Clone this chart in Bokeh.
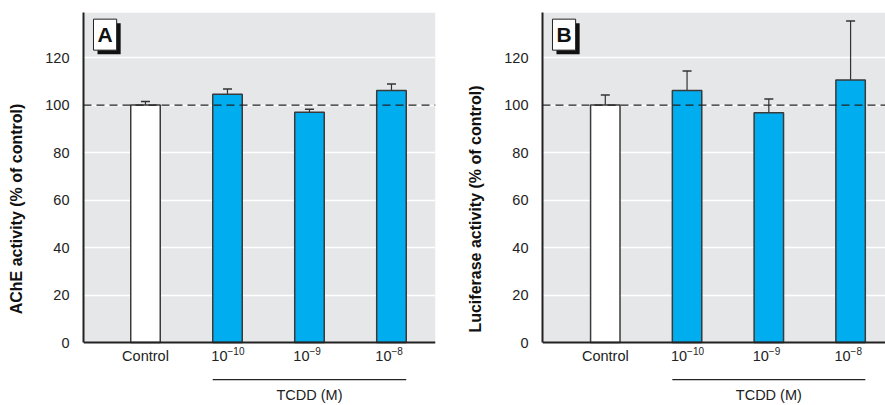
from bokeh.plotting import figure
from bokeh.layouts import row
from bokeh.models import (Range1d, FixedTicker, Span, Label, Whisker, TeeHead,
                          ColumnDataSource, BoxAnnotation)
from bokeh.core.properties import value
from bokeh.embed import file_html
from bokeh.resources import INLINE

categories = ["Control", "10", "10", "10"]
exponents = ["", "\u221210", "\u22129", "\u22128"]
ache_mean = [100.0, 104.6, 97.0, 106.2]
ache_err = [1.5, 2.2, 1.3, 2.7]
luc_mean = [100.0, 106.2, 96.8, 110.6]
luc_err = [4.3, 8.2, 5.8, 24.8]
y_ticks = [0, 20, 40, 60, 80, 100, 120]
group_label = "TCDD (M)"

FONT = "Liberation Sans"
BG = "#e6e7e8"
BLUE = "#00aeef"
INK = "#222222"


def panel(means, errs, ylabel, letter, width, left, right, xr):
    p = figure(width=width, height=405, output_backend="svg", toolbar_location=None,
               x_range=Range1d(*xr), y_range=Range1d(-26.5, 139),
               min_border_left=left, min_border_right=right,
               min_border_top=12, min_border_bottom=0)
    p.background_fill_color = "white"
    p.border_fill_color = "white"
    p.outline_line_color = None
    p.add_layout(BoxAnnotation(bottom=0, fill_color=BG, fill_alpha=1,
                               line_color=None, level="image"))

    xs = list(range(len(categories)))
    colors = ["white"] + [BLUE] * (len(categories) - 1)
    src = ColumnDataSource(dict(x=xs, top=means, color=colors,
                                upper=[m + e for m, e in zip(means, errs)],
                                name=categories, exp=exponents))
    p.vbar(x="x", top="top", width=0.36, source=src, fill_color="color",
           line_color="#3a3a3a", line_width=1.5)
    p.add_layout(Whisker(base="x", lower="top", upper="upper", source=src,
                         line_color="#333333", line_width=1.2,
                         upper_head=TeeHead(size=9, line_color="#333333", line_width=1.5),
                         lower_head=None))
    p.add_layout(Span(location=100, dimension="width", line_color=INK,
                      line_width=1.3, line_dash="8 5"))
    p.add_layout(Span(location=0, dimension="width", line_color=INK, line_width=2))

    # category labels (base + superscript exponent)
    has_exp = [e != "" for e in exponents]
    src_plain = ColumnDataSource(dict(x=[x for x, h in zip(xs, has_exp) if not h],
                                      t=[c for c, h in zip(categories, has_exp) if not h]))
    src_base = ColumnDataSource(dict(x=[x for x, h in zip(xs, has_exp) if h],
                                     t=[c for c, h in zip(categories, has_exp) if h],
                                     e=[e for e, h in zip(exponents, has_exp) if h]))
    p.text(x="x", y=-5.6, text="t", source=src_plain, text_align="center",
           text_baseline="middle", text_font=value(FONT), text_font_size="14.5px",
           text_color=INK)
    p.text(x="x", y=-5.6, text="t", source=src_base, text_align="right",
           text_baseline="middle", text_font=value(FONT), text_font_size="14.5px",
           text_color=INK)
    p.text(x="x", y=-3.4, text="e", source=src_base, text_align="left",
           text_baseline="middle", text_font=value(FONT), text_font_size="10px",
           text_color=INK)

    # TCDD bracket line and label
    first, last = 1, len(categories) - 1
    p.segment(x0=[first - 0.18], y0=[-15.6], x1=[last + 0.18], y1=[-15.6],
              line_color=INK, line_width=1.2)
    p.text(x=[(first + last) / 2], y=[-22.2], text=[group_label], text_align="center",
           text_baseline="middle", text_font=value(FONT), text_font_size="14.5px",
           text_color=INK)

    p.xaxis.visible = False
    p.xgrid.visible = False
    p.ygrid.ticker = FixedTicker(ticks=y_ticks[1:])
    p.ygrid.grid_line_color = "white"
    p.ygrid.grid_line_width = 1.5

    ya = p.yaxis[0]
    ya.ticker = FixedTicker(ticks=y_ticks)
    ya.bounds = (0, 139)
    ya.axis_line_color = INK
    ya.axis_line_width = 2
    ya.major_tick_line_color = None
    ya.minor_tick_line_color = None
    ya.major_label_text_font = FONT
    ya.major_label_text_font_size = "14.5px"
    ya.major_label_text_color = INK
    ya.major_label_standoff = 8
    ya.axis_label = ylabel
    ya.axis_label_text_font = FONT
    ya.axis_label_text_font_style = "bold"
    ya.axis_label_text_font_size = "16px"
    ya.axis_label_text_color = "#111111"
    ya.axis_label_standoff = 17

    # panel letter box with shadow
    lx = xr[0] + 10 / 82
    ly = 136.2
    p.add_layout(Label(x=lx, y=ly, x_offset=4, y_offset=-4, text=letter,
                       text_align="left", text_baseline="top",
                       text_font=FONT, text_font_style="bold",
                       text_font_size="21px", text_color="#111111",
                       background_fill_color="#111111", padding=4))
    p.add_layout(Label(x=lx, y=ly, text=letter,
                       text_align="left", text_baseline="top",
                       text_font=FONT, text_font_style="bold",
                       text_font_size="21px", text_color="#111111",
                       background_fill_color="white", border_line_color=INK,
                       border_line_width=1, padding=4))
    return p


pa = panel(ache_mean, ache_err, "AChE activity (% of control)", "A",
           442, 83, 7, (-0.756, 3.537))
pb = panel(luc_mean, luc_err, "Luciferase activity (% of control)", "B",
           443, 100, 0, (-0.768, 3.427))

layout = row(pa, pb, spacing=0)
open("out.html", "w").write(file_html(layout, INLINE))
